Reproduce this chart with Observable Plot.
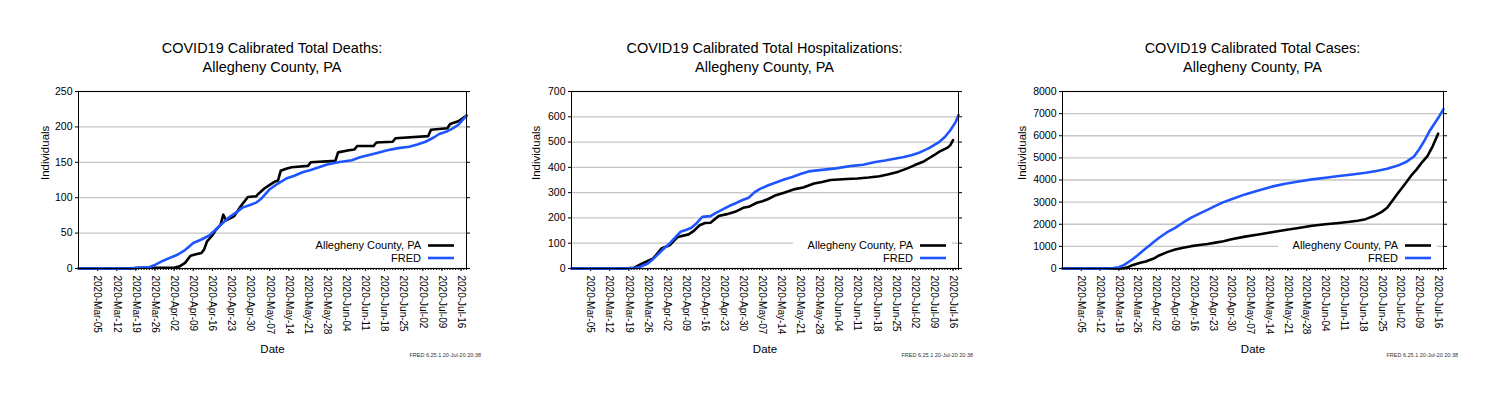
<!DOCTYPE html>
<html><head><meta charset="utf-8">
<script src="https://cdn.jsdelivr.net/npm/d3@7"></script>
<script src="https://cdn.jsdelivr.net/npm/@observablehq/plot@0.6"></script>
<style>
body{margin:0;background:#fff;font-family:"Liberation Sans",Arial,Helvetica,sans-serif;}
#root{position:relative;width:1491px;height:398px;overflow:hidden;background:#fff}
.panel{position:absolute;top:0;width:497px;height:398px}
.title{box-sizing:border-box;height:80px;padding-top:39px;font-size:14.5px;line-height:18.5px;text-align:center;color:#000}
.panel svg{display:block}
.footer{position:absolute;top:352px;font-size:5.5px;line-height:6px;color:#333;white-space:nowrap}
</style></head><body><div id="root"></div>
<script>
// ---------- data ----------
const seriesNames = ["Allegheny County, PA", "FRED"];
const footerText = "FRED 6.25.1 20-Jul-20 20:38";
const xLabel = "Date";
const yLabel = "Individuals";
const xDomain = ["2020-02-27", "2020-07-18"];
const xTickDates = ["2020-03-05","2020-03-12","2020-03-19","2020-03-26","2020-04-02","2020-04-09","2020-04-16","2020-04-23","2020-04-30","2020-05-07","2020-05-14","2020-05-21","2020-05-28","2020-06-04","2020-06-11","2020-06-18","2020-06-25","2020-07-02","2020-07-09","2020-07-16"];

const deathsTicks = [0, 50, 100, 150, 200, 250];
const hospTicks = [0, 100, 200, 300, 400, 500, 600, 700];
const casesTicks = [0, 1000, 2000, 3000, 4000, 5000, 6000, 7000, 8000];

const deathsCounty = [["2020-02-27",0],["2020-03-17",0],["2020-03-20",1],["2020-04-02",1],["2020-04-04",3],["2020-04-06",8],["2020-04-08",18],["2020-04-10",20],["2020-04-12",22],["2020-04-13",27],["2020-04-14",38],["2020-04-16",47],["2020-04-17",53],["2020-04-19",62],["2020-04-20",76],["2020-04-21",68],["2020-04-23",72],["2020-04-24",74],["2020-04-26",86],["2020-04-28",96],["2020-04-29",101],["2020-05-02",102],["2020-05-03",106],["2020-05-05",113],["2020-05-07",118],["2020-05-09",123],["2020-05-10",124],["2020-05-11",138],["2020-05-13",141],["2020-05-15",143],["2020-05-21",145],["2020-05-22",150],["2020-05-31",152],["2020-06-01",164],["2020-06-05",167],["2020-06-07",168],["2020-06-08",173],["2020-06-14",173],["2020-06-15",178],["2020-06-21",179],["2020-06-22",184],["2020-07-04",187],["2020-07-05",196],["2020-07-11",198],["2020-07-12",204],["2020-07-15",208],["2020-07-18",216]];
const deathsFred = [["2020-02-27",0],["2020-03-15",0],["2020-03-20",1],["2020-03-24",2],["2020-03-26",5],["2020-03-29",11],["2020-04-01",16],["2020-04-03",19],["2020-04-06",26],["2020-04-09",36],["2020-04-12",41],["2020-04-15",47],["2020-04-18",58],["2020-04-20",65],["2020-04-22",72],["2020-04-25",80],["2020-04-27",86],["2020-04-30",90],["2020-05-02",93],["2020-05-04",99],["2020-05-07",112],["2020-05-10",120],["2020-05-13",127],["2020-05-16",131],["2020-05-19",136],["2020-05-22",139],["2020-05-25",143],["2020-05-28",147],["2020-06-01",150],["2020-06-06",153],["2020-06-09",157],["2020-06-12",160],["2020-06-16",164],["2020-06-19",167],["2020-06-23",170],["2020-06-27",172],["2020-06-30",175],["2020-07-03",179],["2020-07-06",185],["2020-07-08",190],["2020-07-11",194],["2020-07-13",198],["2020-07-15",203],["2020-07-18",216]];

const hospCounty = [["2020-02-27",0],["2020-03-17",0],["2020-03-21",3],["2020-03-24",20],["2020-03-26",30],["2020-03-28",40],["2020-03-31",79],["2020-04-03",92],["2020-04-06",125],["2020-04-08",130],["2020-04-10",135],["2020-04-12",150],["2020-04-14",171],["2020-04-16",180],["2020-04-18",181],["2020-04-21",208],["2020-04-24",215],["2020-04-27",224],["2020-04-30",240],["2020-05-02",244],["2020-05-05",260],["2020-05-07",266],["2020-05-09",274],["2020-05-12",290],["2020-05-15",300],["2020-05-19",314],["2020-05-22",320],["2020-05-26",336],["2020-05-29",342],["2020-06-01",350],["2020-06-07",354],["2020-06-11",356],["2020-06-15",360],["2020-06-19",365],["2020-06-22",372],["2020-06-26",383],["2020-06-29",395],["2020-07-02",409],["2020-07-05",422],["2020-07-07",435],["2020-07-09",448],["2020-07-11",462],["2020-07-14",478],["2020-07-15",488],["2020-07-16",508]];
const hospFred = [["2020-02-27",0],["2020-03-17",0],["2020-03-21",2],["2020-03-23",6],["2020-03-26",20],["2020-03-28",38],["2020-03-30",59],["2020-04-01",80],["2020-04-03",99],["2020-04-05",122],["2020-04-07",145],["2020-04-09",152],["2020-04-11",161],["2020-04-13",180],["2020-04-15",204],["2020-04-18",207],["2020-04-20",220],["2020-04-23",237],["2020-04-25",248],["2020-04-27",257],["2020-04-30",272],["2020-05-02",280],["2020-05-04",300],["2020-05-06",314],["2020-05-09",328],["2020-05-12",340],["2020-05-15",352],["2020-05-18",362],["2020-05-21",374],["2020-05-24",384],["2020-05-28",389],["2020-06-03",396],["2020-06-09",406],["2020-06-13",410],["2020-06-17",420],["2020-06-21",427],["2020-06-25",435],["2020-06-28",441],["2020-07-01",449],["2020-07-04",460],["2020-07-07",475],["2020-07-09",488],["2020-07-11",501],["2020-07-13",520],["2020-07-15",547],["2020-07-17",580],["2020-07-18",607]];

const casesCounty = [["2020-02-27",0],["2020-03-20",0],["2020-03-22",40],["2020-03-24",151],["2020-03-27",260],["2020-03-29",320],["2020-04-01",450],["2020-04-03",588],["2020-04-06",740],["2020-04-09",860],["2020-04-12",940],["2020-04-15",1010],["2020-04-18",1060],["2020-04-21",1110],["2020-04-24",1170],["2020-04-27",1230],["2020-04-30",1320],["2020-05-05",1440],["2020-05-10",1540],["2020-05-15",1640],["2020-05-20",1740],["2020-05-25",1830],["2020-05-30",1930],["2020-06-04",2000],["2020-06-09",2060],["2020-06-13",2110],["2020-06-16",2160],["2020-06-19",2230],["2020-06-22",2370],["2020-06-25",2560],["2020-06-27",2745],["2020-06-29",3077],["2020-07-01",3400],["2020-07-04",3876],["2020-07-06",4208],["2020-07-08",4480],["2020-07-10",4800],["2020-07-12",5083],["2020-07-14",5535],["2020-07-16",6094]];
const casesFred = [["2020-02-27",0],["2020-03-14",0],["2020-03-17",20],["2020-03-19",60],["2020-03-21",166],["2020-03-24",407],["2020-03-26",600],["2020-03-29",905],["2020-04-01",1200],["2020-04-03",1388],["2020-04-06",1640],["2020-04-09",1840],["2020-04-12",2080],["2020-04-15",2300],["2020-04-18",2480],["2020-04-21",2650],["2020-04-24",2830],["2020-04-27",3000],["2020-04-30",3130],["2020-05-05",3350],["2020-05-10",3530],["2020-05-15",3700],["2020-05-20",3831],["2020-05-25",3930],["2020-05-30",4027],["2020-06-04",4100],["2020-06-09",4178],["2020-06-14",4250],["2020-06-19",4329],["2020-06-23",4410],["2020-06-27",4510],["2020-07-01",4650],["2020-07-04",4811],["2020-07-07",5060],["2020-07-09",5400],["2020-07-11",5800],["2020-07-13",6250],["2020-07-16",6800],["2020-07-18",7200]];

// ---------- styling ----------
const FONT = "Liberation Sans, Arial, Helvetica, sans-serif";
const countyColor = "#000000";
const fredColor = "#1f55ff";
const parse = d3.utcParse("%Y-%m-%d");
const toRows = arr => arr.map(([d, v]) => ({date: parse(d), value: v}));

const panels = [
  {left: 0, title: ["COVID19 Calibrated Total Deaths:", "Allegheny County, PA"], ml: 78, mr: 31, yTicks: deathsTicks, county: deathsCounty, fred: deathsFred, ylo: 33},
  {left: 497, title: ["COVID19 Calibrated Total Hospitalizations:", "Allegheny County, PA"], ml: 74, mr: 36, yTicks: hospTicks, county: hospCounty, fred: hospFred, ylo: 35},
  {left: 994, title: ["COVID19 Calibrated Total Cases:", "Allegheny County, PA"], ml: 68, mr: 48, yTicks: casesTicks, county: casesCounty, fred: casesFred, ylo: 40}
];

function legendMark() {
  return (index, scales, values, dims) => {
    const R = dims.width - dims.marginRight, B = dims.height - dims.marginBottom;
    const g = d3.create("svg:g");
    g.append("rect").attr("x", R - 165).attr("y", B - 31).attr("width", 159).attr("height", 28).attr("fill", "white");
    const colors = [countyColor, fredColor];
    seriesNames.forEach((name, i) => {
      const y = B - 22.5 + i * 12.5;
      g.append("text").attr("x", R - 45).attr("y", y).attr("dy", "0.35em")
        .attr("text-anchor", "end").attr("font-size", 11).attr("font-family", FONT).attr("fill", "#000").text(name);
      g.append("line").attr("x1", R - 38).attr("x2", R - 12).attr("y1", y).attr("y2", y)
        .attr("stroke", colors[i]).attr("stroke-width", 2.6);
    });
    return g.node();
  };
}

const root = document.getElementById("root");
const domain = xDomain.map(parse);
const dailyTicks = d3.utcDay.range(domain[0], d3.utcDay.offset(domain[1], 1));
const weekTicks = xTickDates.map(parse);
const fmt = d3.utcFormat("%Y-%b-%d");

panels.forEach(p => {
  const div = document.createElement("div");
  div.className = "panel";
  div.style.left = p.left + "px";
  const t = document.createElement("div");
  t.className = "title";
  t.style.paddingLeft = p.ml + "px";
  t.style.paddingRight = p.mr + "px";
  t.innerHTML = p.title.map(s => `<div>${s}</div>`).join("");
  div.appendChild(t);

  const county = toRows(p.county), fred = toRows(p.fred);
  const yMax = p.yTicks[p.yTicks.length - 1];
  const chart = Plot.plot({
    width: 497, height: 318,
    marginLeft: p.ml, marginRight: p.mr, marginTop: 11, marginBottom: 130,
    x: {type: "utc", domain},
    y: {domain: [0, yMax]},
    style: {fontFamily: FONT, background: "white", color: "#000", overflow: "visible"},
    marks: [
      Plot.gridY(p.yTicks, {stroke: "#c4c4c4", strokeOpacity: 1, strokeWidth: 1.3}),
      legendMark(),
      Plot.axisY(p.yTicks, {tickSize: 3, tickPadding: 3, fontSize: 10.5, tickFormat: d3.format("d"), label: null}),
      Plot.axisY(p.yTicks, {anchor: "right", tickSize: 3, tickFormat: () => "", label: null}),
      Plot.axisX(dailyTicks, {tickSize: 2, tickFormat: () => "", label: null}),
      Plot.axisX(weekTicks, {tickSize: 3, tickPadding: 4, tickRotate: 90, fontSize: 10, tickFormat: fmt, label: null}),
      Plot.text([yLabel], {text: d => d, frameAnchor: "left", dx: -p.ylo, rotate: -90, fontSize: 11.5, fill: "#000"}),
      Plot.text([xLabel], {text: d => d, frameAnchor: "bottom", dy: 84, fontSize: 11.5, fill: "#000"}),
      Plot.lineY(county, {x: "date", y: "value", stroke: countyColor, strokeWidth: 2.6}),
      Plot.lineY(fred, {x: "date", y: "value", stroke: fredColor, strokeWidth: 2.6}),
      Plot.frame({stroke: "#000", strokeWidth: 1})
    ]
  });
  div.appendChild(chart);

  const f = document.createElement("div");
  f.className = "footer";
  f.style.right = (p.mr - 15) + "px";
  f.textContent = footerText;
  div.appendChild(f);
  root.appendChild(div);
});
</script></body></html>
